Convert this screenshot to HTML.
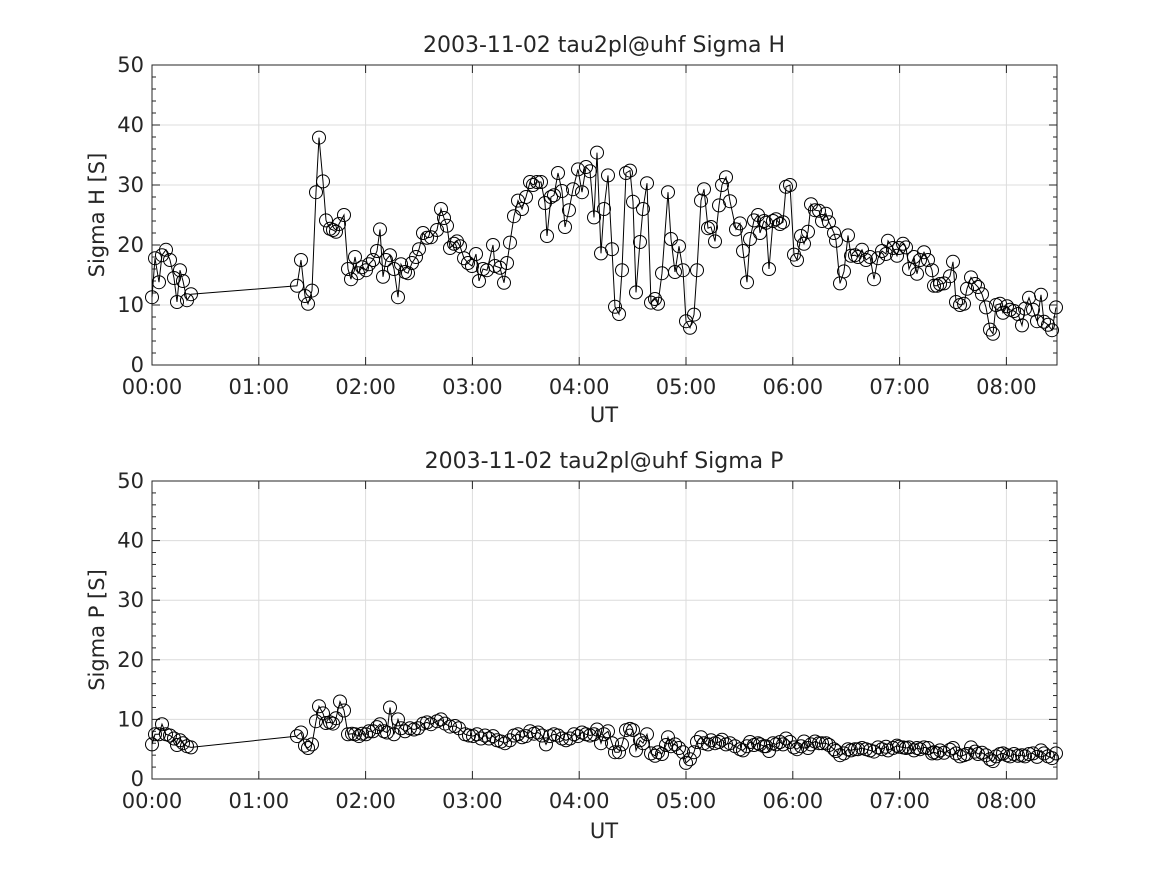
<!DOCTYPE html><html><head><style>body{margin:0;background:#fff}svg{display:block;font-family:"DejaVu Sans","Liberation Sans",sans-serif}</style></head><body>
<svg id="s" width="1167" height="875" xmlns="http://www.w3.org/2000/svg">
<rect width="1167" height="875" fill="#fff"/>
<g id="g"></g>
<g font-size="22" fill="#262626" text-anchor="middle" xml:space="preserve">
<text x="604" y="52">2003-11-02  tau2pl@uhf Sigma H</text>
<text x="604" y="468">2003-11-02  tau2pl@uhf Sigma P</text>
</g>
<g font-size="21" fill="#262626" text-anchor="middle">
<text x="604" y="422">UT</text>
<text x="604" y="838">UT</text>
<text transform="translate(104,215) rotate(-90)">Sigma H [S]</text>
<text transform="translate(104,630) rotate(-90)">Sigma P [S]</text>
</g>
<g id="t" font-size="21" fill="#262626"></g>
</svg>
<script>
const H=[[152,11.3],[155,17.8],[159,13.8],[162,18.3],[166,19.2],[170,17.5],[174,14.5],[177,10.5],[180,15.8],[183,14],[187,10.8],[191,11.8],[297,13.2],[301,17.5],[305,11.5],[308,10.2],[312,12.4],[316,28.8],[319,37.9],[323,30.6],[326,24.1],[330,22.7],[333,22.5],[336,22.2],[339,23.5],[344,25],[348,16],[351,14.3],[355,18],[358,15.3],[362,16.3],[366,15.8],[369,16.8],[373,17.5],[377,19],[380,22.6],[383,14.7],[386,17.5],[390,18.3],[394,16],[398,11.3],[401,16.8],[405,15.5],[408,15.3],[412,17],[416,18],[419,19.3],[423,22],[427,21.2],[431,21.3],[437,22.5],[441,26],[444,24.5],[447,23.2],[450,19.5],[454,20.2],[457,20.6],[460,19.8],[464,17.8],[468,17],[472,16.5],[476,18.5],[479,14],[483,16],[487,15.8],[493,20],[495,16.5],[500,16.2],[504,13.7],[507,17],[510,20.4],[514,24.8],[518,27.4],[522,26],[526,28],[530,30.5],[533,30],[537,30.5],[541,30.5],[545,27],[547,21.5],[551,28],[554,28.3],[558,32],[562,29],[565,23],[569,25.8],[573,29.3],[578,32.6],[582,28.8],[586,33],[590,32.3],[594,24.6],[597,35.4],[601,18.6],[604,26],[608,31.6],[612,19.3],[615,9.7],[619,8.5],[622,15.8],[626,32],[630,32.4],[633,27.2],[636,12.1],[640,20.5],[643,26],[647,30.3],[651,10.4],[655,11],[658,10.2],[662,15.3],[668,28.8],[671,21],[675,15.5],[679,19.8],[683,15.8],[686,7.3],[690,6.2],[694,8.4],[697,15.8],[701,27.4],[704,29.3],[708,22.8],[711,23],[715,20.6],[719,26.6],[722,30],[726,31.3],[730,27.3],[736,22.6],[740,23.6],[743,19],[747,13.8],[750,21],[754,24.1],[758,25],[760,22],[764,24],[766,23.7],[769,16],[773,24],[776,24.3],[780,23.5],[783,23.8],[786,29.7],[790,30],[794,18.4],[797,17.5],[801,21.5],[804,20.2],[808,22.2],[811,26.8],[815,25.8],[819,25.7],[822,24],[826,25.2],[829,23.8],[834,22],[836,20.7],[840,13.6],[844,15.6],[848,21.6],[851,18.2],[855,18.3],[858,18],[862,19.2],[866,17.5],[870,18],[874,14.3],[878,17.8],[882,19],[886,18.5],[888,20.7],[893,19.5],[897,18.2],[899,19.5],[903,20.2],[906,19.6],[909,16],[914,18],[917,15.2],[920,17.5],[924,18.8],[928,17.5],[932,15.8],[934,13.2],[937,13.2],[940,13.5],[944,13.6],[950,14.8],[953,17.2],[956,10.5],[960,10],[964,10.2],[967,12.7],[971,14.6],[975,13.5],[978,13],[982,11.8],[986,9.6],[990,5.9],[993,5.2],[996,10],[1000,10.2],[1003,8.7],[1007,9.8],[1010,9.2],[1014,9],[1018,8.5],[1022,6.6],[1025,9.4],[1029,11.2],[1033,9.2],[1037,7.3],[1041,11.7],[1044,7.2],[1048,6.7],[1052,5.8],[1056,9.6]];
const P=[[152,5.8],[155,7.5],[159,7.5],[162,9.2],[166,7.5],[170,7.3],[174,6.8],[177,5.7],[180,6.5],[183,6],[187,5.5],[191,5.3],[297,7.2],[301,7.8],[305,5.6],[308,5.2],[312,5.8],[316,9.7],[319,12.2],[323,11],[326,9.4],[330,9.5],[333,9.3],[336,10.2],[340,13],[344,11.5],[348,7.5],[352,7.6],[355,7.5],[359,7.2],[362,7.6],[366,7.5],[369,8],[373,8],[377,8.7],[380,9.2],[384,8],[387,7.8],[390,12],[394,7.5],[398,10],[401,8.5],[405,8],[410,8.5],[414,8.3],[418,8.5],[423,9.3],[427,9.5],[431,9.2],[437,9.7],[441,10],[445,9.3],[450,8.8],[455,8.9],[459,8.5],[465,7.5],[469,7.3],[473,7.2],[477,7.5],[481,6.8],[485,7.3],[489,6.8],[493,7.2],[497,6.5],[501,6.3],[505,6],[510,6.5],[514,7.3],[518,7.5],[522,7],[526,7.2],[530,8],[534,7.6],[538,7.8],[542,7.3],[546,5.8],[550,7.2],[554,7.5],[558,7.3],[562,6.8],[566,6.5],[570,6.8],[574,7.5],[578,7.2],[582,7.8],[586,7.5],[590,7.3],[594,7.5],[597,8.3],[601,6],[604,7.5],[608,8],[612,6],[615,4.5],[619,4.5],[622,5.8],[626,8.2],[630,8.4],[633,8.2],[636,4.8],[640,6.5],[643,6],[647,7.5],[651,4.3],[655,3.9],[658,4.5],[662,4.2],[666,5.7],[668,7],[671,5.5],[675,5.8],[679,5.2],[683,4.5],[686,2.7],[690,3.3],[694,4.5],[697,6.2],[701,7],[704,6],[708,5.8],[711,6.5],[715,6],[719,6.2],[722,6.6],[726,5.8],[730,6],[735,5.5],[740,5],[743,4.8],[747,5.5],[750,6.2],[754,5.7],[758,6],[760,5.8],[764,5.5],[766,5.5],[769,4.7],[773,6],[776,5.8],[780,6.2],[783,5.8],[786,6.8],[790,6.2],[794,5.3],[797,5],[801,5.5],[804,6.3],[808,5.2],[811,5.8],[815,6.3],[819,6],[822,6],[826,6],[829,5.7],[834,5],[836,4.7],[840,4],[844,4.3],[848,5],[851,4.8],[855,5],[858,5],[862,5.2],[866,5],[870,4.8],[874,4.6],[878,5.3],[882,5],[886,5.4],[888,4.8],[893,5.2],[897,5.6],[899,5.4],[903,5.3],[906,5.2],[909,5.3],[914,4.8],[917,5.2],[920,5],[924,5.3],[928,5.2],[932,4.3],[934,4.5],[937,4.3],[940,4.8],[944,4.4],[950,4.9],[953,5.2],[956,4.3],[960,3.8],[964,4],[967,4.2],[971,5.3],[975,4.6],[978,4.2],[982,4.4],[986,4],[990,3.3],[993,3],[996,3.8],[1000,4.2],[1003,4.3],[1007,4],[1010,3.8],[1014,4.2],[1018,3.9],[1022,4],[1025,3.8],[1029,4.2],[1033,4.3],[1037,3.7],[1041,4.8],[1044,4.3],[1048,3.8],[1052,3.5],[1056,4.3]];
const X0=152,X1=1057,HX=106.8;let s='',t='';
function ax(top,bot,D){const sc=(bot-top)/50,y=v=>bot-v*sc;
 for(let i=0;i<=8;i++){const x=X0+i*HX;s+=`<line x1="${x}" y1="${top}" x2="${x}" y2="${bot}" stroke="#dcdcdc"/>`;t+=`<text x="${x}" y="${bot+29}" text-anchor="middle">${'0'+i}:00</text>`;}
 for(let v=10;v<50;v+=10)s+=`<line x1="${X0}" y1="${y(v)}" x2="${X1}" y2="${y(v)}" stroke="#dcdcdc"/>`;
 s+=`<rect x="${X0}" y="${top}" width="${X1-X0}" height="${bot-top}" fill="none" stroke="#262626"/>`;
 for(let v=0;v<=50;v+=2){const L=v%10?4:8;s+=`<line x1="${X0}" y1="${y(v)}" x2="${X0+L}" y2="${y(v)}" stroke="#262626"/><line x1="${X1}" y1="${y(v)}" x2="${X1-L}" y2="${y(v)}" stroke="#262626"/>`;}
 for(let v=0;v<=50;v+=10)t+=`<text x="${X0-8}" y="${y(v)+7}" text-anchor="end">${v}</text>`;
 for(let i=0;i<=8;i++){const x=X0+i*HX;s+=`<line x1="${x}" y1="${bot}" x2="${x}" y2="${bot-8}" stroke="#262626"/><line x1="${x}" y1="${top}" x2="${x}" y2="${top+8}" stroke="#262626"/>`;}
 s+=`<polyline fill="none" stroke="#000" stroke-width="1" points="${D.map(p=>p[0]+','+y(p[1]).toFixed(1)).join(' ')}"/>`;
 D.forEach(p=>s+=`<circle cx="${p[0]}" cy="${y(p[1]).toFixed(1)}" r="6.5" fill="none" stroke="#000" stroke-width="1"/>`);}
ax(65,365,H);ax(481,779,P);
document.getElementById('g').innerHTML=s;document.getElementById('t').innerHTML=t;
</script></body></html>
